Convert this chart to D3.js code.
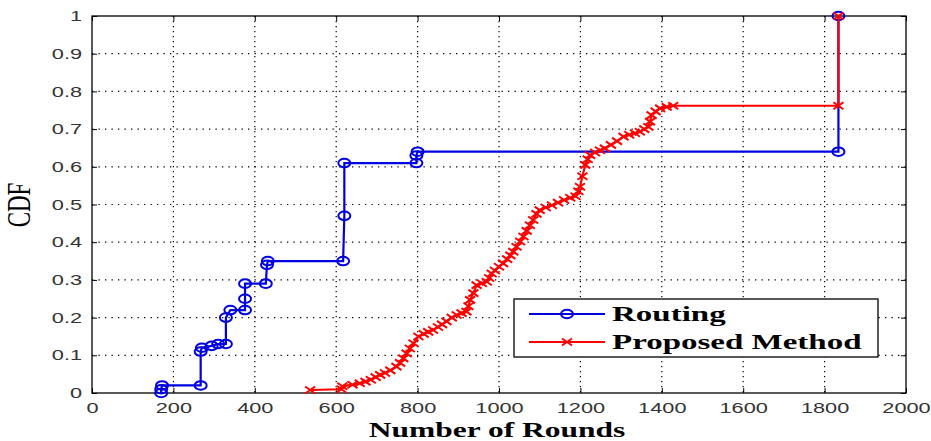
<!DOCTYPE html>
<html>
<head>
<meta charset="utf-8">
<script src="https://cdn.jsdelivr.net/npm/d3@7"></script>
<style>
    body { margin: 0; background: #fff; }
    .tick text { font-family: "Liberation Sans", Arial, sans-serif; fill: #333; }
</style>
</head>
<body>
<div id="chart"></div>
<script>
// Routing (blue, circles)
var routingRounds = [170, 170, 172, 267, 267, 270, 294, 310, 329, 329, 340, 376, 376, 376, 427, 430, 432, 617, 620, 620, 797, 797, 800, 1834, 1834];
var routingCdf = [0, 0.01, 0.02, 0.02, 0.11, 0.12, 0.125, 0.13, 0.13, 0.2, 0.22, 0.22, 0.25, 0.29, 0.29, 0.34, 0.35, 0.35, 0.47, 0.61, 0.61, 0.63, 0.64, 0.64, 1.0];

// Proposed Method (red, crosses)
var proposedRounds = [536, 613, 615, 640, 658, 672, 685, 697, 708, 720, 733, 748, 757, 765, 773, 781, 790, 802, 815, 826,
    838, 850, 860, 871, 884, 896, 908, 920, 925, 929, 937, 945, 958, 970, 976, 982, 990, 1000, 1010, 1020,
    1028, 1035, 1043, 1052, 1060, 1068, 1076, 1084, 1092, 1100, 1115, 1130, 1145, 1160, 1175, 1188, 1195, 1199, 1205, 1212,
    1218, 1224, 1236, 1248, 1260, 1275, 1290, 1306, 1320, 1334, 1346, 1357, 1367, 1371, 1375, 1385, 1396, 1412, 1428, 1834, 1834];
var proposedCdf = [0.008, 0.01, 0.018, 0.022, 0.026, 0.03, 0.035, 0.042, 0.048, 0.053, 0.06, 0.07, 0.08, 0.092, 0.105, 0.118, 0.132, 0.15, 0.157, 0.162,
    0.167, 0.175, 0.182, 0.19, 0.2, 0.207, 0.212, 0.216, 0.23, 0.247, 0.265, 0.286, 0.291, 0.295, 0.305, 0.317, 0.325, 0.335, 0.344, 0.355,
    0.365, 0.375, 0.388, 0.402, 0.415, 0.43, 0.445, 0.459, 0.475, 0.485, 0.492, 0.498, 0.505, 0.512, 0.518, 0.522, 0.535, 0.547, 0.575, 0.605,
    0.62, 0.631, 0.638, 0.644, 0.649, 0.658, 0.668, 0.68, 0.685, 0.689, 0.693, 0.7, 0.706, 0.72, 0.737, 0.747, 0.755, 0.759, 0.762, 0.762, 1.0];

var xTicks = [0, 200, 400, 600, 800, 1000, 1200, 1400, 1600, 1800, 2000];
var yTicks = [0, 0.1, 0.2, 0.3, 0.4, 0.5, 0.6, 0.7, 0.8, 0.9, 1];
var seriesNames = ["Routing", "Proposed Method"];
var seriesColors = ["#0000e0", "#ff0000"];

// the source figure is stretched sideways, so text gets a horizontal scale
var stretch = 1.5;

var margin = { left: 92, top: 16, right: 25, bottom: 48 },
    width = 931 - margin.left - margin.right,
    height = 441 - margin.top - margin.bottom;

var x = d3.scaleLinear().domain([0, 2000]).range([0, width]);
var y = d3.scaleLinear().domain([0, 1]).range([height, 0]);

var svg = d3.select("#chart").append("svg")
    .attr("width", 931)
    .attr("height", 441)
    .append("g")
    .attr("transform", "translate(" + margin.left + "," + margin.top + ")");

// grid (dotted)
svg.append("g").selectAll("line.gx")
    .data(xTicks.slice(1, -1))
    .enter().append("line")
    .attr("x1", function(d) { return x(d); })
    .attr("x2", function(d) { return x(d); })
    .attr("y1", 0).attr("y2", height)
    .style("stroke", "#000").style("stroke-width", 1.2)
    .style("stroke-dasharray", "1.3,3.7");

svg.append("g").selectAll("line.gy")
    .data(yTicks.slice(1, -1))
    .enter().append("line")
    .attr("y1", function(d) { return y(d); })
    .attr("y2", function(d) { return y(d); })
    .attr("x1", 0).attr("x2", width)
    .style("stroke", "#000").style("stroke-width", 1.2)
    .style("stroke-dasharray", "1.3,5.2");

// axes with inward ticks
var xAxis = svg.append("g")
    .attr("transform", "translate(0," + height + ")")
    .call(d3.axisBottom(x).tickValues(xTicks).tickFormat(d3.format("d")).tickSizeInner(-5).tickSizeOuter(0).tickPadding(10));
var yAxis = svg.append("g")
    .call(d3.axisLeft(y).tickValues(yTicks).tickFormat(d3.format("")).tickSizeInner(-5).tickSizeOuter(0).tickPadding(10));
svg.append("g")
    .call(d3.axisTop(x).tickValues(xTicks).tickFormat("").tickSizeInner(-5).tickSizeOuter(0));
svg.append("g")
    .attr("transform", "translate(" + width + ",0)")
    .call(d3.axisRight(y).tickValues(yTicks).tickFormat("").tickSizeInner(-5).tickSizeOuter(0));

svg.selectAll(".domain").remove();
svg.selectAll(".tick line").style("stroke", "#000");

xAxis.selectAll(".tick text")
    .style("font-size", "14.5px")
    .attr("transform", "scale(" + stretch + ",1)");

yAxis.selectAll(".tick text")
    .style("font-size", "14.5px")
    .attr("text-anchor", "end")
    .attr("x", -10 / stretch)
    .attr("transform", "scale(" + stretch + ",1)");

// frame
svg.append("rect")
    .attr("width", width).attr("height", height)
    .style("fill", "none").style("stroke", "#000").style("stroke-width", 1.3);

// series
var routing = routingRounds.map(function(d, i) { return [d, routingCdf[i]]; });
var proposed = proposedRounds.map(function(d, i) { return [d, proposedCdf[i]]; });

var line = d3.line()
    .x(function(d) { return x(d[0]); })
    .y(function(d) { return y(d[1]); });

svg.append("path")
    .datum(routing)
    .attr("d", line)
    .style("fill", "none").style("stroke", seriesColors[0]).style("stroke-width", 2.2);

svg.selectAll("ellipse.routing")
    .data(routing)
    .enter().append("ellipse")
    .attr("class", "routing")
    .attr("cx", function(d) { return x(d[0]); })
    .attr("cy", function(d) { return y(d[1]); })
    .attr("rx", 6).attr("ry", 4.3)
    .style("fill", "none").style("stroke", seriesColors[0]).style("stroke-width", 2);

svg.append("path")
    .datum(proposed)
    .attr("d", line)
    .style("fill", "none").style("stroke", seriesColors[1]).style("stroke-width", 2.2);

function cross(cx, cy) {
    return "M" + (cx - 5) + "," + (cy - 3.5) + "L" + (cx + 5) + "," + (cy + 3.5) +
        "M" + (cx - 5) + "," + (cy + 3.5) + "L" + (cx + 5) + "," + (cy - 3.5);
}

svg.selectAll("path.proposed")
    .data(proposed)
    .enter().append("path")
    .attr("class", "proposed")
    .attr("d", function(d) { return cross(x(d[0]), y(d[1])); })
    .style("fill", "none").style("stroke", seriesColors[1]).style("stroke-width", 2);

// labels
svg.append("text")
    .attr("transform", "translate(" + (497 - margin.left) + "," + (437 - margin.top) + ") scale(" + stretch + ",1)")
    .attr("text-anchor", "middle")
    .style("font-family", "'Liberation Serif', 'Times New Roman', serif")
    .style("font-size", "21px")
    .style("font-weight", "bold")
    .text("Number of Rounds");

svg.append("text")
    .attr("transform", "translate(" + (30 - margin.left) + "," + (205 - margin.top) + ") scale(" + stretch + ",1) rotate(-90)")
    .attr("text-anchor", "middle")
    .style("font-family", "'Liberation Serif', 'Times New Roman', serif")
    .style("font-size", "23px")
    .text("CDF");

// legend
var legend = svg.append("g")
    .attr("transform", "translate(" + (514 - margin.left) + "," + (299 - margin.top) + ")");

legend.append("rect")
    .attr("width", 364).attr("height", 58)
    .style("fill", "#fff").style("stroke", "#000").style("stroke-width", 1.3);

var entries = legend.selectAll("g.entry")
    .data(seriesNames)
    .enter().append("g")
    .attr("class", "entry")
    .attr("transform", function(d, i) { return "translate(0," + (15 + i * 28) + ")"; });

entries.append("line")
    .attr("x1", 15).attr("x2", 91)
    .style("stroke", function(d, i) { return seriesColors[i]; })
    .style("stroke-width", 2.2);

entries.filter(function(d, i) { return i === 0; })
    .append("ellipse")
    .attr("cx", 53).attr("rx", 6).attr("ry", 4.3)
    .style("fill", "none").style("stroke", seriesColors[0]).style("stroke-width", 2);

entries.filter(function(d, i) { return i === 1; })
    .append("path")
    .attr("d", cross(53, 0))
    .style("fill", "none").style("stroke", seriesColors[1]).style("stroke-width", 2);

entries.append("text")
    .attr("transform", "translate(98,7) scale(" + stretch + ",1)")
    .style("font-family", "'Liberation Serif', 'Times New Roman', serif")
    .style("font-size", "22px")
    .style("font-weight", "bold")
    .text(function(d) { return d; });
</script>
</body>
</html>
